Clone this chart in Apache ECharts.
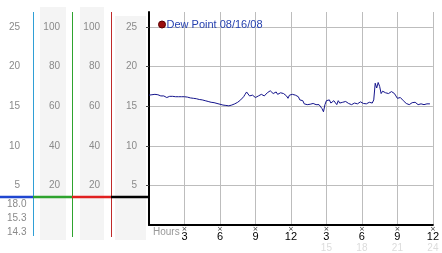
<!DOCTYPE html>
<html>
<head>
<meta charset="utf-8">
<script src="https://cdn.jsdelivr.net/npm/echarts@6/dist/echarts.min.js"></script>
<style>
html,body{margin:0;padding:0;background:#fff;}
#chart{width:442px;height:253px;}
</style>
</head>
<body>
<div id="chart"></div>
<script>
// ---- data ----
var seriesName = 'Dew Point 08/16/08';
var stepHours = 0.125; // readings every 7.5 minutes
var dewPoint = [
  16.4,16.45,16.45,16.5,16.5,16.45,16.45,16.4,16.3,16.3,16.3,16.35,16.1,16.2,16.25,16.25,
  16.25,16.2,16.2,16.2,16.2,16.2,16.2,16.2,16.2,16.2,16.15,16.1,16.05,16.05,16.0,16.0,
  15.95,15.9,15.85,15.85,15.8,15.75,15.7,15.65,15.6,15.55,15.5,15.5,15.45,15.4,15.35,15.3,
  15.25,15.2,15.15,15.1,15.1,15.05,15.05,15.1,15.15,15.2,15.3,15.4,15.5,15.65,15.8,16.0,
  16.2,16.5,16.8,16.6,16.3,16.2,16.4,16.3,16.1,16.2,16.3,16.4,16.5,16.3,16.3,16.5,
  16.7,16.6,16.95,16.7,16.6,16.8,16.8,16.5,16.6,16.7,16.75,16.6,16.5,16.3,16.0,16.4,
  16.3,16.5,16.6,16.4,16.55,16.2,15.8,15.9,15.7,15.3,15.45,15.2,15.45,15.25,15.3,15.35,
  15.35,15.2,15.1,15.2,15.1,14.7,14.3,15.2,15.7,15.9,15.8,15.4,15.35,15.7,15.55,15.2,
  15.7,15.4,15.35,15.5,15.45,15.6,15.45,15.35,15.35,15.2,15.2,15.4,15.35,15.3,15.35,15.55,
  15.5,15.35,15.4,15.3,15.45,15.5,15.45,15.4,15.8,17.9,17.3,18.0,17.5,16.6,16.9,16.7,
  16.7,16.55,16.6,16.8,16.85,16.7,16.6,16.3,16.0,16.2,16.1,15.9,15.7,15.5,15.35,15.4,
  15.2,15.35,15.45,15.55,15.5,15.3,15.2,15.3,15.3,15.25,15.2,15.35,15.3,15.35,15.3
];
var xTicks = ['', '3', '6', '9', '12', '3', '6', '9', '12'];
var xTicks24 = ['', '', '', '', '', '15', '18', '21', '24'];
var statLabels = ['18.0', '15.3', '14.3'];
var xLabelTitle = 'Hours';

var yMax = 26.9;
var seriesData = dewPoint.map(function (v, i) { return [i * stepHours, v]; });

var chart = echarts.init(document.getElementById('chart'), null, {renderer: 'canvas'});
var gray = '#8a8a8a';
var font = 'Liberation Sans';
var teal = '#2f9fd6', green = '#2ea32e', red = '#bf2a2a';

function sideAxis(max, interval, offset, margin) {
  return {
    type: 'value', min: 0, max: max, interval: interval, position: 'left', offset: offset,
    axisLine: {show: false, onZero: false},
    axisTick: {show: false}, splitLine: {show: false},
    axisLabel: {margin: margin, color: gray, fontSize: 10, fontFamily: font, showMinLabel: false, showMaxLabel: false}
  };
}

var option = {
  animation: false,
  backgroundColor: '#fff',
  grid: {left: 149, right: 4, top: 12, bottom: 28, containLabel: false},
  legend: {
    left: 153, top: 14, itemWidth: 7, itemHeight: 7,
    data: [{name: seriesName, icon: 'circle', itemStyle: {color: '#9a0d0d', borderColor: '#5a0000', borderWidth: 1}}],
    textStyle: {color: '#2742b0', fontSize: 11, fontFamily: font, padding: [0, 0, 0, -4]}
  },
  xAxis: {
    type: 'value', min: 0, max: 24, interval: 3,
    axisLine: {lineStyle: {color: '#000', width: 2}},
    axisTick: {show: false},
    splitLine: {show: true, lineStyle: {color: '#bdbdbd', width: 1}},
    axisLabel: {
      margin: 2, showMinLabel: false, showMaxLabel: true,
      formatter: function (val) {
        var i = Math.round(val / 3);
        if (!xTicks[i]) return '';
        return '{t|×}\n{d|' + xTicks[i] + '}\n{f|' + (xTicks24[i] || ' ') + '}';
      },
      rich: {
        t: {fontSize: 7, lineHeight: 5, color: '#333', fontFamily: 'DejaVu Sans', align: 'center'},
        d: {fontSize: 11, lineHeight: 10, color: '#000', fontFamily: font, align: 'center'},
        f: {fontSize: 10, lineHeight: 12, color: '#dcdcdc', fontFamily: font, align: 'center'}
      }
    }
  },
  yAxis: [
    {
      type: 'value', min: 0, max: yMax, interval: 5, position: 'left',
      axisLine: {show: true, onZero: false, lineStyle: {color: '#000', width: 2}},
      axisTick: {show: true, length: 3, lineStyle: {color: '#444'}},
      splitLine: {show: true, showMinLine: false, showMaxLine: false, lineStyle: {color: '#bdbdbd'}},
      axisLabel: {margin: 12, color: gray, fontSize: 10, fontFamily: font, showMinLabel: false, showMaxLabel: false}
    },
    sideAxis(yMax * 4, 20, 38, 11),
    sideAxis(yMax * 4, 20, 77, 12),
    sideAxis(yMax, 5, 116, 13)
  ],
  graphic: [
    {type: 'rect', z: -10, shape: {x: 40, y: 7, width: 26, height: 233}, style: {fill: '#f4f4f4'}},
    {type: 'rect', z: -10, shape: {x: 80, y: 7, width: 24, height: 233}, style: {fill: '#f4f4f4'}},
    {type: 'rect', z: -10, shape: {x: 115, y: 16, width: 31, height: 224}, style: {fill: '#f4f4f4'}},
    {type: 'line', z: 5, shape: {x1: 33.5, y1: 12, x2: 33.5, y2: 236}, style: {stroke: teal, lineWidth: 1}},
    {type: 'line', z: 5, shape: {x1: 72.5, y1: 12, x2: 72.5, y2: 237}, style: {stroke: green, lineWidth: 1}},
    {type: 'line', z: 5, shape: {x1: 111.5, y1: 12, x2: 111.5, y2: 237}, style: {stroke: red, lineWidth: 1}},
    {type: 'line', z: 6, shape: {x1: 0, y1: 197, x2: 33, y2: 197}, style: {stroke: '#1f46d0', lineWidth: 2.5}},
    {type: 'line', z: 6, shape: {x1: 33, y1: 197, x2: 72, y2: 197}, style: {stroke: green, lineWidth: 2.5}},
    {type: 'line', z: 6, shape: {x1: 72, y1: 197, x2: 111, y2: 197}, style: {stroke: '#e02020', lineWidth: 2.5}},
    {type: 'line', z: 6, shape: {x1: 111, y1: 197, x2: 149, y2: 197}, style: {stroke: '#000', lineWidth: 2.5}},
    {type: 'text', z: 6, left: 7, top: 199, style: {text: statLabels[0], fill: gray, font: '10px "Liberation Sans"'}},
    {type: 'text', z: 6, left: 7, top: 213, style: {text: statLabels[1], fill: gray, font: '10px "Liberation Sans"'}},
    {type: 'text', z: 6, left: 7, top: 227, style: {text: statLabels[2], fill: gray, font: '10px "Liberation Sans"'}},
    {type: 'text', z: 6, left: 153, top: 227, style: {text: xLabelTitle, fill: '#999', font: '10px "Liberation Sans"'}}
  ],
  series: [{
    name: seriesName,
    type: 'line',
    data: seriesData,
    showSymbol: false,
    symbol: 'none',
    lineStyle: {color: '#14148c', width: 1},
    itemStyle: {color: '#9a0d0d'},
    z: 3
  }]
};
chart.setOption(option);
</script>
</body>
</html>
